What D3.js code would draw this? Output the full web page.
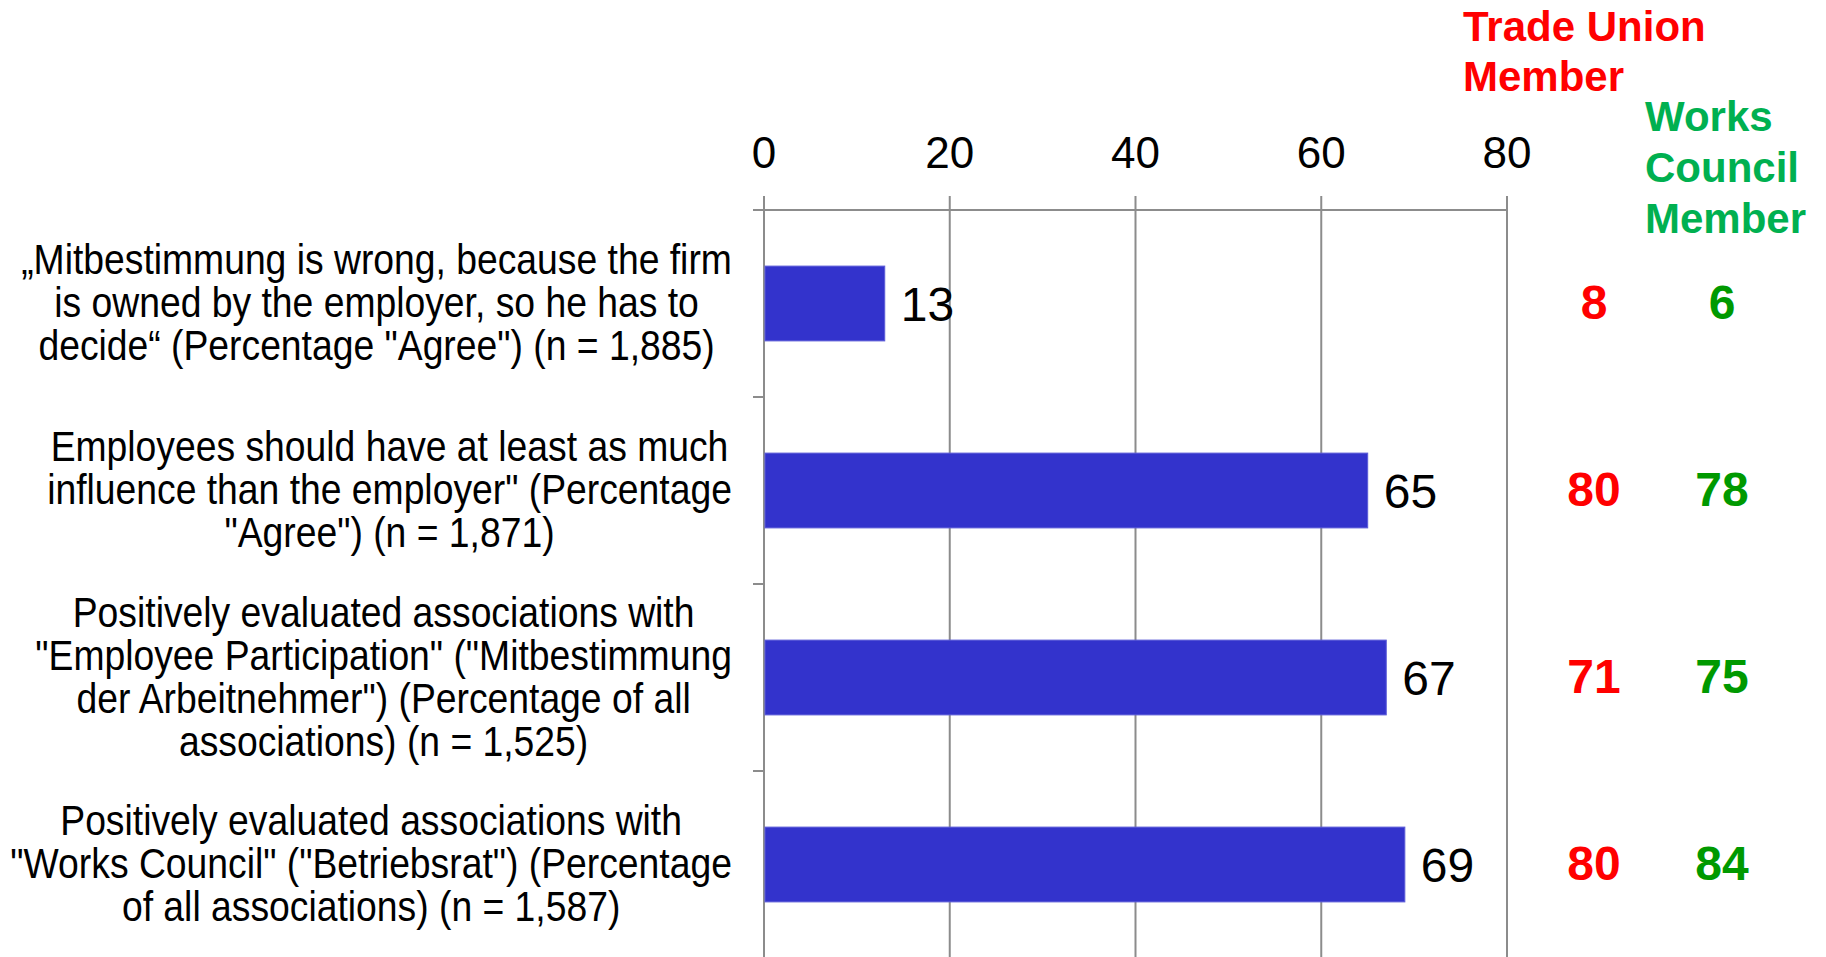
<!DOCTYPE html>
<html>
<head>
<meta charset="utf-8">
<script src="https://cdn.jsdelivr.net/npm/d3@7"></script>
<style>
  html, body { margin: 0; padding: 0; background: #ffffff; }
  svg { display: block; font-family: "Liberation Sans", Arial, sans-serif; }
</style>
</head>
<body>
<svg id="chart" width="1826" height="957"></svg>
<script>
// ---- Data ----
const categories = [
  ["„Mitbestimmung is wrong, because the firm", "is owned by the employer, so he has to", "decide“ (Percentage \"Agree\") (n = 1,885)"],
  ["Employees should have at least as much", "influence than the employer\" (Percentage", "\"Agree\") (n = 1,871)"],
  ["Positively evaluated associations with", "\"Employee Participation\" (\"Mitbestimmung", "der Arbeitnehmer\") (Percentage of all", "associations) (n = 1,525)"],
  ["Positively evaluated associations with", "\"Works Council\" (\"Betriebsrat\") (Percentage", "of all associations) (n = 1,587)"]
];
const values = [13, 65, 67, 69];
const tradeUnion = [8, 80, 71, 80];
const worksCouncil = [6, 78, 75, 84];
const xTicks = [0, 20, 40, 60, 80];
const tradeUnionHeader = ["Trade Union", "Member"];
const worksCouncilHeader = ["Works", "Council", "Member"];

// ---- Layout ----
const svg = d3.select("#chart");
const x = d3.scaleLinear().domain([0, 80]).range([764, 1507]);
const y = d3.scaleBand().domain(d3.range(categories.length)).range([210, 958])
  .paddingInner(0.6).paddingOuter(0.3);
const gridColor = "#8c8c8c";
const labelRight = 732;
const labelScaleX = 0.888;
const labelFs = 42;
const labelLine = 43;

// gridlines (vertical) incl. ticks above axis
svg.append("g").selectAll("line").data(xTicks).join("line")
  .attr("x1", d => x(d)).attr("x2", d => x(d))
  .attr("y1", 196).attr("y2", 957)
  .attr("stroke", gridColor).attr("stroke-width", 2);

// top axis line
svg.append("line")
  .attr("x1", x(0) - 11).attr("x2", x(80))
  .attr("y1", 210).attr("y2", 210)
  .attr("stroke", gridColor).attr("stroke-width", 2);

// category boundary ticks on left
const step = y.step();
const bounds = d3.range(1, categories.length).map(i => y.range()[0] + i * step);
svg.append("g").selectAll("line").data(bounds).join("line")
  .attr("x1", x(0) - 11).attr("x2", x(0))
  .attr("y1", d => d).attr("y2", d => d)
  .attr("stroke", gridColor).attr("stroke-width", 2);

// tick labels
svg.append("g").selectAll("text").data(xTicks).join("text")
  .attr("x", d => x(d)).attr("y", 152 + 0.358 * 44)
  .attr("text-anchor", "middle")
  .attr("font-size", 44).attr("fill", "#000")
  .text(d => d);

// bars
svg.append("g").selectAll("rect").data(values).join("rect")
  .attr("x", x(0) + 1)
  .attr("y", (d, i) => y(i))
  .attr("width", d => x(d) - x(0) - 1)
  .attr("height", y.bandwidth())
  .attr("fill", "#3333CC")
  .attr("stroke", "#5c5cd8").attr("stroke-width", 1);

// value labels
svg.append("g").selectAll("text").data(values).join("text")
  .attr("x", d => x(d) + 16)
  .attr("y", (d, i) => y(i) + y.bandwidth() / 2 + 0.358 * 48)
  .attr("font-size", 48).attr("fill", "#000")
  .text(d => d);

// category labels
categories.forEach((lines, i) => {
  const cy = y(i) + y.bandwidth() / 2;
  const g = svg.append("g");
  const n = lines.length;
  const texts = g.selectAll("text").data(lines).join("text")
    .attr("x", 0)
    .attr("y", (d, k) => (k - (n - 1) / 2) * labelLine + 0.33 * labelFs)
    .attr("text-anchor", "middle")
    .attr("font-size", labelFs).attr("fill", "#000")
    .text(d => d);
  let maxW = 0;
  texts.each(function() { maxW = Math.max(maxW, this.getComputedTextLength()); });
  const cx = labelRight - maxW * labelScaleX / 2;
  g.attr("transform", `translate(${cx},${cy}) scale(${labelScaleX},1)`);
});

// annotation columns
const redCol = 1594, greenCol = 1722;
svg.append("g").selectAll("text").data(tradeUnion).join("text")
  .attr("x", redCol)
  .attr("y", (d, i) => y(i) + y.bandwidth() / 2 - 2 + 0.358 * 48)
  .attr("text-anchor", "middle").attr("font-weight", "bold")
  .attr("font-size", 48).attr("fill", "#FF0000")
  .text(d => d);
svg.append("g").selectAll("text").data(worksCouncil).join("text")
  .attr("x", greenCol)
  .attr("y", (d, i) => y(i) + y.bandwidth() / 2 - 2 + 0.358 * 48)
  .attr("text-anchor", "middle").attr("font-weight", "bold")
  .attr("font-size", 48).attr("fill", "#009900")
  .text(d => d);

// headers
svg.append("g").selectAll("text").data(tradeUnionHeader).join("text")
  .attr("x", 1463).attr("y", (d, k) => 41 + k * 50)
  .attr("font-weight", "bold").attr("font-size", 42).attr("fill", "#FF0000")
  .text(d => d);
svg.append("g").selectAll("text").data(worksCouncilHeader).join("text")
  .attr("x", 1645).attr("y", (d, k) => 131 + k * 51)
  .attr("font-weight", "bold").attr("font-size", 42).attr("fill", "#00B050")
  .text(d => d);
</script>
</body>
</html>
